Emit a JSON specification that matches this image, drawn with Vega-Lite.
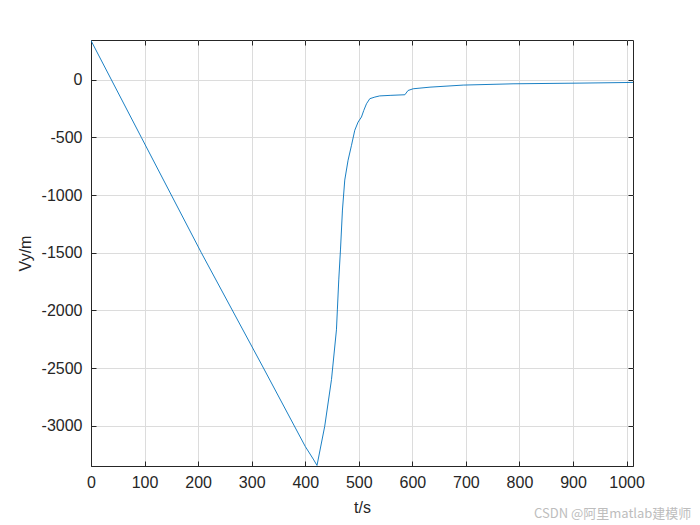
{
  "$schema": "https://vega.github.io/schema/vega-lite/v6.json",
  "width": 542,
  "height": 426,
  "autosize": "none",
  "padding": {"left": 91, "top": 40, "right": 67, "bottom": 59},
  "background": "white",
  "config": {
    "font": "Liberation Sans",
    "view": {"stroke": "#262626", "strokeWidth": 1},
    "axis": {"labelFont": "Liberation Sans", "titleFont": "Liberation Sans", "labelColor": "#262626", "titleColor": "#262626", "titleFontWeight": "normal"}
  },
  "title": {
    "text": "CSDN @阿里matlab建模师",
    "orient": "bottom",
    "anchor": "end",
    "font": "Noto Sans CJK SC",
    "fontSize": 13,
    "fontWeight": "normal",
    "color": "#bdbdbd",
    "offset": -7,
    "dx": 47
  },
  "data": {
    "values": [
      {"t": 0, "v": 340},
      {"t": 94, "v": -500},
      {"t": 206, "v": -1500},
      {"t": 322, "v": -2500},
      {"t": 400, "v": -3180},
      {"t": 415, "v": -3290},
      {"t": 422, "v": -3345},
      {"t": 436.4, "v": -3005},
      {"t": 449, "v": -2601},
      {"t": 458.3, "v": -2169},
      {"t": 460, "v": -1996},
      {"t": 462.6, "v": -1736},
      {"t": 465.8, "v": -1476},
      {"t": 469.5, "v": -1130},
      {"t": 473.8, "v": -870},
      {"t": 480, "v": -698},
      {"t": 486.4, "v": -568},
      {"t": 492.5, "v": -438},
      {"t": 498.7, "v": -367},
      {"t": 505, "v": -323},
      {"t": 509.3, "v": -266},
      {"t": 514.4, "v": -208},
      {"t": 520.6, "v": -164},
      {"t": 530, "v": -150},
      {"t": 539, "v": -140},
      {"t": 560, "v": -135},
      {"t": 586, "v": -130},
      {"t": 592, "v": -93},
      {"t": 601.5, "v": -78},
      {"t": 633, "v": -64},
      {"t": 695, "v": -46},
      {"t": 788, "v": -35},
      {"t": 913, "v": -29},
      {"t": 1012, "v": -23}
    ]
  },
  "layer": [
    {
      "mark": {"type": "line", "color": "#0072BD", "strokeWidth": 0.9, "clip": true},
      "encoding": {
        "x": {
          "field": "t", "type": "quantitative",
          "scale": {"domain": [0, 1012], "nice": false, "zero": false},
          "axis": {
            "orient": "bottom", "title": "t/s", "titleFontSize": 16, "titlePadding": 9,
            "values": [0, 100, 200, 300, 400, 500, 600, 700, 800, 900, 1000],
            "labelExpr": "datum.value + ''",
            "labelFontSize": 16, "labelPadding": 13, "tickSize": -5, "tickColor": "#262626",
            "domainColor": "#262626", "grid": true, "gridColor": "#dcdcdc", "labelFlush": false
          }
        },
        "y": {
          "field": "v", "type": "quantitative",
          "scale": {"domain": [-3350, 345], "nice": false, "zero": false},
          "axis": {
            "orient": "left", "title": "Vy/m", "titleFontSize": 16, "titlePadding": 8,
            "values": [0, -500, -1000, -1500, -2000, -2500, -3000],
            "labelExpr": "datum.value + ''",
            "labelFontSize": 16, "labelPadding": 14, "tickSize": -5, "tickColor": "#262626",
            "domainColor": "#262626", "grid": true, "gridColor": "#dcdcdc", "labelFlush": false
          }
        }
      }
    },
    {
      "mark": {"type": "line", "opacity": 0},
      "encoding": {
        "x": {
          "field": "t", "type": "quantitative",
          "axis": {"orient": "top", "title": null, "labels": false, "grid": false, "domain": false,
                   "values": [0, 100, 200, 300, 400, 500, 600, 700, 800, 900, 1000],
                   "tickSize": -5, "tickColor": "#262626"}
        },
        "y": {
          "field": "v", "type": "quantitative",
          "axis": {"orient": "right", "title": null, "labels": false, "grid": false, "domain": false,
                   "values": [0, -500, -1000, -1500, -2000, -2500, -3000],
                   "tickSize": -5, "tickColor": "#262626"}
        }
      }
    }
  ],
  "resolve": {"axis": {"x": "independent", "y": "independent"}}
}
